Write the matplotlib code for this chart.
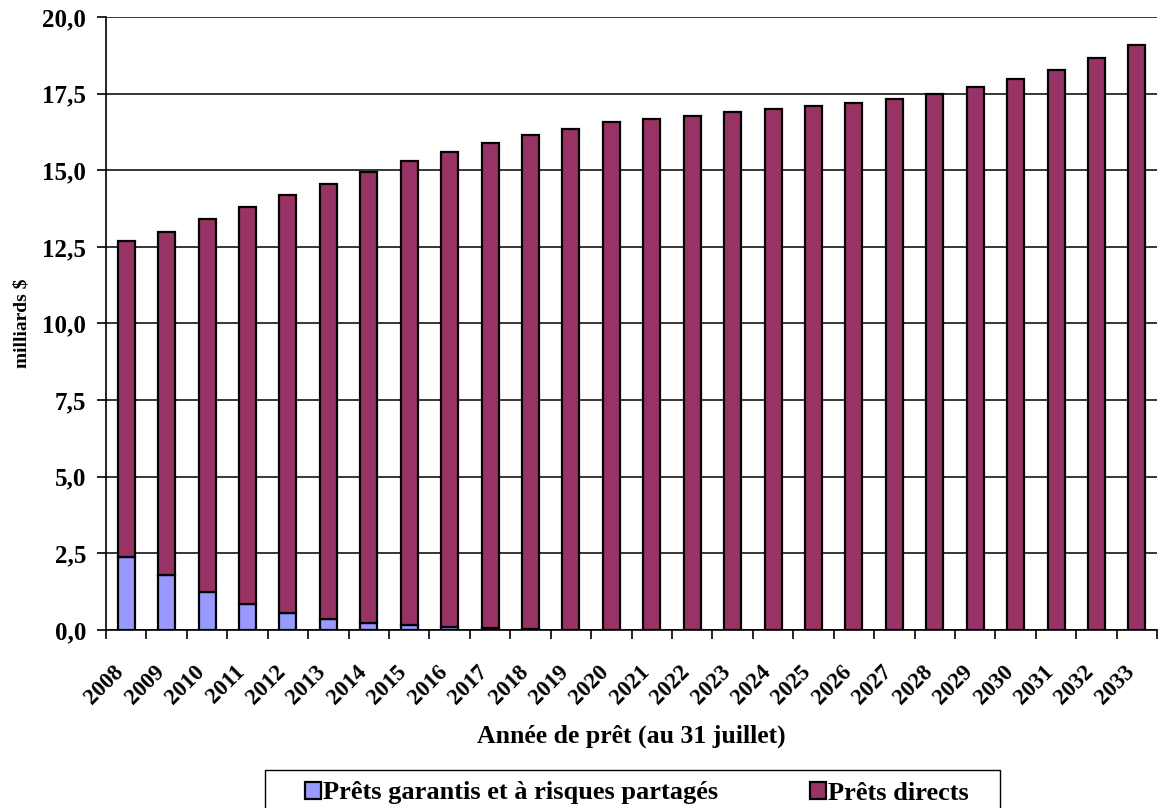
import numpy as np
import matplotlib.pyplot as plt
from matplotlib.patches import Rectangle
from matplotlib.transforms import ScaledTranslation
from matplotlib.ticker import FuncFormatter, MultipleLocator, FixedLocator

plt.rcParams['font.family'] = ['Liberation Serif', 'DejaVu Serif']
plt.rcParams['font.weight'] = 'bold'

# Années de prêt et encours (milliards $)
years = list(range(2008, 2034))
total = [12.7, 13.0, 13.4, 13.8, 14.2, 14.55, 14.95, 15.3, 15.6, 15.9,
         16.15, 16.35, 16.56, 16.68, 16.78, 16.9, 17.0, 17.1, 17.2, 17.33,
         17.5, 17.7, 17.96, 18.27, 18.65, 19.09]
garantis = [2.39, 1.78, 1.25, 0.85, 0.55, 0.36, 0.24, 0.15, 0.1, 0.06,
            0.03, 0.01, 0, 0, 0, 0, 0, 0, 0, 0,
            0, 0, 0, 0, 0, 0]
directs = [t - g for t, g in zip(total, garantis)]

W, H = 1164, 808
fig = plt.figure(figsize=(W / 100, H / 100), dpi=100)
ax = fig.add_axes([0.0911, 0.2203, 0.903, 0.7587])

x = np.arange(len(years))
w = 0.42
ax.bar(x, garantis, w, color='#9999FF', edgecolor='black', linewidth=1.6,
       label='Prêts garantis et à risques partagés', zorder=3)
ax.bar(x, directs, w, bottom=garantis, color='#993366', edgecolor='black',
       linewidth=1.6, label='Prêts directs', zorder=3)

ax.set_xlim(-0.5, len(years) - 0.5)
ax.set_ylim(0, 20)
ax.yaxis.set_major_locator(MultipleLocator(2.5))
ax.yaxis.set_major_formatter(FuncFormatter(lambda v, p: f'{v:.1f}'.replace('.', ',')))
ax.grid(axis='y', color='black', linewidth=1.1, zorder=0)

# ticks entre les catégories, étiquettes au centre
ax.xaxis.set_major_locator(FixedLocator(np.arange(-0.5, len(years), 1.0)))
ax.set_xticklabels([])
ax.xaxis.set_minor_locator(FixedLocator(x))
ax.set_xticklabels([str(y) for y in years], minor=True, rotation=45,
                   ha='right', va='top', rotation_mode='anchor', fontsize=16.5,
                   fontweight='bold')
ax.tick_params(axis='x', which='minor', length=0, pad=22.5)
ax.tick_params(axis='x', which='major', length=6.5, width=1.2, direction='out')
ax.tick_params(axis='y', length=6.5, width=1.2, labelsize=18, pad=8)
shift = ScaledTranslation(-13 / 100, 0, fig.dpi_scale_trans)
for lbl in ax.get_xticklabels(minor=True):
    lbl.set_transform(lbl.get_transform() + shift)
for lbl in ax.get_yticklabels():
    lbl.set_fontweight('bold')

for side in ['top', 'right']:
    ax.spines[side].set_visible(False)
ax.spines['left'].set_linewidth(1.2)
ax.spines['bottom'].set_linewidth(1.2)

ax.set_ylabel('milliards $', fontsize=14, fontweight='bold')
ax.yaxis.set_label_coords(-0.072, 0.5)
ax.set_xlabel('Année de prêt (au 31 juillet)', fontsize=18.5, fontweight='bold')
ax.xaxis.set_label_coords(0.5, -0.155)

# légende sans cadre + cadre dessiné à part (coupé en bas)
leg = fig.legend(loc='center left', bbox_to_anchor=(305 / W, 1 - 793 / H), ncol=2,
                 fontsize=19, frameon=False, borderpad=0, borderaxespad=0,
                 handlelength=0.6, handleheight=0.62, handletextpad=0.08,
                 columnspacing=3.5)
for t in leg.get_texts():
    t.set_fontweight('bold')
fig.patches.append(Rectangle((265 / W, -0.02), 735 / W, 0.02 + 1 - 770 / H,
                             transform=fig.transFigure, fill=False,
                             edgecolor='black', linewidth=1.0))

fig.savefig('out.png', dpi=100)
